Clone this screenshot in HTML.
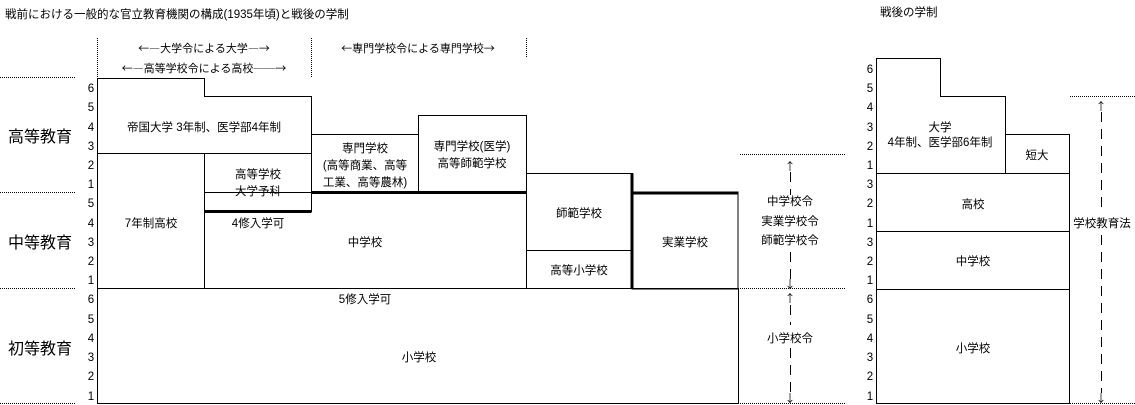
<!DOCTYPE html>
<html><head><meta charset="utf-8"><style>
html,body{margin:0;padding:0;background:#fff;width:1135px;height:405px;overflow:hidden}
svg text{font-family:"Liberation Sans","Noto Sans CJK JP",sans-serif;font-size:11.5px;fill:#000}
svg text.j{font-family:"Noto Sans CJK JP",sans-serif;font-size:11px}
.big{font-size:16px}
.n{font-size:11.5px}
</style></head><body>
<svg width="1135" height="405" viewBox="0 0 1135 405" xmlns="http://www.w3.org/2000/svg">
<g fill="none" stroke="#000" stroke-width="1">
<g stroke-dasharray="1,1">
<line x1="0" y1="77.5" x2="76" y2="77.5"/>
<line x1="0" y1="192.5" x2="76" y2="192.5"/>
<line x1="0" y1="288.5" x2="76" y2="288.5"/>
<line x1="0" y1="403.5" x2="76" y2="403.5"/>
<line x1="97.5" y1="38" x2="97.5" y2="77"/>
<line x1="311.5" y1="38" x2="311.5" y2="77"/>
<line x1="526.5" y1="38" x2="526.5" y2="58"/>
<line x1="740" y1="154.5" x2="846" y2="154.5"/>
<line x1="740" y1="288.5" x2="846" y2="288.5"/>
<line x1="740" y1="403.5" x2="846" y2="403.5"/>
<line x1="1070" y1="96.5" x2="1135" y2="96.5"/>
<line x1="1070" y1="403.5" x2="1135" y2="403.5"/>
</g>
<path d="M97.5 153.5 V78.5 H204.5 V96.5 H311.5 V153.5 Z"/>
<rect x="97.5" y="153.5" width="107" height="135"/>
<rect x="204.5" y="153.5" width="107" height="58"/>
<line x1="204.5" y1="211.5" x2="311.5" y2="211.5" stroke-width="3"/>
<rect x="311.5" y="134.5" width="107" height="58"/>
<rect x="418.5" y="115.5" width="108" height="77"/>
<rect x="204.5" y="192.5" width="322" height="96"/>
<line x1="311.5" y1="192.5" x2="526.5" y2="192.5" stroke-width="3"/>
<rect x="526.5" y="173.5" width="106" height="77"/>
<rect x="526.5" y="250.5" width="106" height="38"/>
<rect x="632" y="193" width="106" height="96"/>
<line x1="632" y1="173.5" x2="632" y2="289" stroke-width="3"/>
<line x1="632" y1="193" x2="738.5" y2="193" stroke-width="3"/>
<rect x="97.5" y="288.5" width="641" height="115"/>
<path d="M876.5 173.5 V58.5 H940.5 V96.5 H1005.5 V173.5 Z"/>
<rect x="1005.5" y="134.5" width="64" height="39"/>
<rect x="876.5" y="173.5" width="193" height="58"/>
<rect x="876.5" y="231.5" width="193" height="58"/>
<rect x="876.5" y="289.5" width="193" height="114"/>
<g stroke-dasharray="10,7">
<line x1="790.5" y1="172" x2="790.5" y2="195"/>
<line x1="790.5" y1="252" x2="790.5" y2="280"/>
<line x1="790.5" y1="305" x2="790.5" y2="325"/>
<line x1="790.5" y1="348" x2="790.5" y2="393"/>
<line x1="1101.5" y1="112" x2="1101.5" y2="210"/>
<line x1="1101.5" y1="235" x2="1101.5" y2="393"/>
</g>
</g>
<text x="5" y="18">戦前における一般的な官立教育機関の構成(1935年頃)と戦後の学制</text>
<text x="880" y="16">戦後の学制</text>
<text class="j" x="204" y="52" text-anchor="middle">←―大学令による大学―→</text>
<text class="j" x="204" y="72" text-anchor="middle">←―高等学校令による高校──→</text>
<text class="j" x="418" y="52" text-anchor="middle">←専門学校令による専門学校→</text>
<text class="big" x="8" y="142">高等教育</text>
<text class="big" x="8" y="248">中等教育</text>
<text class="big" x="8" y="354">初等教育</text>
<g text-anchor="middle" class="n">
<text x="91" y="92">6</text><text x="91" y="111">5</text><text x="91" y="131">4</text><text x="91" y="150">3</text><text x="91" y="169">2</text><text x="91" y="188">1</text>
<text x="91" y="207">5</text><text x="91" y="227">4</text><text x="91" y="246">3</text><text x="91" y="265">2</text><text x="91" y="284">1</text>
<text x="91" y="303">6</text><text x="91" y="323">5</text><text x="91" y="342">4</text><text x="91" y="361">3</text><text x="91" y="380">2</text><text x="91" y="400">1</text>
<text x="870" y="73">6</text><text x="870" y="92">5</text><text x="870" y="111">4</text><text x="870" y="131">3</text><text x="870" y="150">2</text><text x="870" y="169">1</text>
<text x="870" y="188">3</text><text x="870" y="207">2</text><text x="870" y="227">1</text>
<text x="870" y="246">3</text><text x="870" y="265">2</text><text x="870" y="284">1</text>
<text x="870" y="303">6</text><text x="870" y="323">5</text><text x="870" y="342">4</text><text x="870" y="361">3</text><text x="870" y="380">2</text><text x="870" y="400">1</text>
</g>
<g text-anchor="middle">
<text x="204" y="131">帝国大学 3年制、医学部4年制</text>
<text x="151" y="227">7年制高校</text>
<text x="258" y="178">高等学校</text>
<text x="258" y="195">大学予科</text>
<text x="258" y="227">4修入学可</text>
<text x="365" y="152">専門学校</text>
<text x="365" y="169">(高等商業、高等</text>
<text x="365" y="186">工業、高等農林)</text>
<text x="472" y="150">専門学校(医学)</text>
<text x="472" y="167">高等師範学校</text>
<text x="365" y="246">中学校</text>
<text x="579" y="217">師範学校</text>
<text x="579" y="274">高等小学校</text>
<text x="685" y="246">実業学校</text>
<text x="365" y="303">5修入学可</text>
<text x="419" y="361">小学校</text>
<text class="j" x="790" y="170">↑</text>
<text x="790" y="205">中学校令</text>
<text x="790" y="225">実業学校令</text>
<text x="790" y="244">師範学校令</text>
<text class="j" x="790" y="288">↓</text>
<text class="j" x="790" y="302">↑</text>
<text x="790" y="342">小学校令</text>
<text class="j" x="790" y="402">↓</text>
<text x="940" y="131">大学</text>
<text x="940" y="146">4年制、医学部6年制</text>
<text x="1037" y="159">短大</text>
<text x="973" y="208">高校</text>
<text x="973" y="265">中学校</text>
<text x="973" y="352">小学校</text>
<text class="j" x="1101" y="110">↑</text>
<text x="1102" y="227">学校教育法</text>
<text class="j" x="1101" y="402">↓</text>
</g>
</svg>
</body></html>
